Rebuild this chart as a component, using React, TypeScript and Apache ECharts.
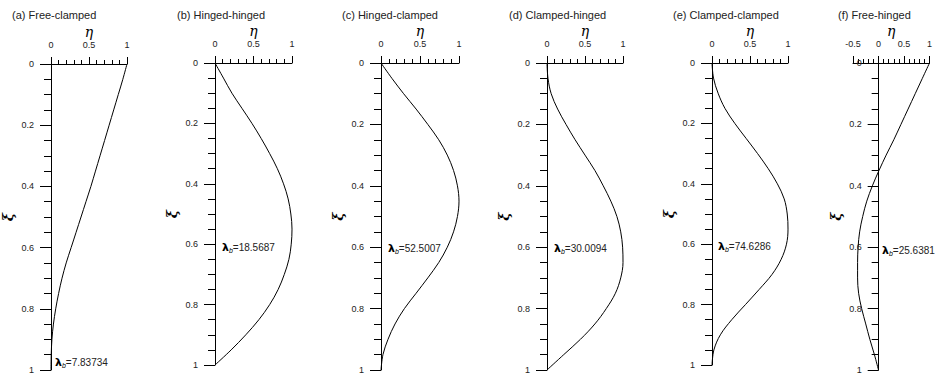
import React, { useEffect, useRef } from "react";
import * as echarts from "echarts";

// ξ sample positions (shared by all panels)
const XI = [0, 0.05, 0.1, 0.15, 0.2, 0.25, 0.3, 0.35, 0.4, 0.45, 0.5, 0.55, 0.6, 0.65, 0.7, 0.75, 0.8, 0.85, 0.9, 0.95, 1];

// η values, one array per panel
const ETA_A = [1, 0.945, 0.885, 0.825, 0.765, 0.705, 0.645, 0.585, 0.525, 0.46, 0.395, 0.33, 0.265, 0.2, 0.145, 0.1, 0.062, 0.032, 0.012, 0.003, 0];
const ETA_B = [0, 0.11, 0.22, 0.35, 0.48, 0.6, 0.71, 0.81, 0.89, 0.95, 0.985, 1.0, 0.99, 0.96, 0.9, 0.82, 0.71, 0.57, 0.4, 0.21, 0];
const ETA_C = [0, 0.14, 0.29, 0.45, 0.6, 0.74, 0.85, 0.93, 0.98, 1.0, 0.98, 0.93, 0.85, 0.74, 0.6, 0.45, 0.3, 0.18, 0.09, 0.025, 0];
const ETA_D = [0, 0.013, 0.055, 0.14, 0.25, 0.37, 0.5, 0.63, 0.74, 0.84, 0.92, 0.97, 0.995, 1.0, 0.97, 0.9, 0.78, 0.63, 0.44, 0.22, 0];
const ETA_E = [0, 0.02, 0.08, 0.17, 0.3, 0.45, 0.6, 0.74, 0.86, 0.95, 0.99, 1.0, 0.98, 0.91, 0.79, 0.62, 0.44, 0.26, 0.11, 0.025, 0];
const ETA_F = [1, 0.86, 0.72, 0.58, 0.44, 0.3, 0.15, 0.01, -0.12, -0.23, -0.31, -0.37, -0.4, -0.41, -0.41, -0.39, -0.33, -0.25, -0.17, -0.08, 0];

const SERIES = [ETA_A, ETA_B, ETA_C, ETA_D, ETA_E, ETA_F];
const TITLES = ["(a) Free-clamped", "(b) Hinged-hinged", "(c) Hinged-clamped", "(d) Clamped-hinged", "(e) Clamped-clamped", "(f) Free-hinged"];
const LAMBDAS = ["7.83734", "18.5687", "52.5007", "30.0094", "74.6286", "25.6381"];
const ETA_MIN = [0, 0, 0, 0, 0, -0.5];
const ETA_MAX = 1;

// layout (pixels)
const GRIDS = [
  { left: 50, top: 64, width: 77, height: 306 },
  { left: 215, top: 63, width: 77, height: 302 },
  { left: 381, top: 63, width: 78, height: 307 },
  { left: 547, top: 63, width: 76, height: 307 },
  { left: 712, top: 63, width: 76, height: 302 },
  { left: 853, top: 63, width: 77, height: 307 },
];
const TITLE_X = [12, 177, 342, 509, 673, 838];
const LAMBDA_POS = [
  [55, 362],
  [222, 247],
  [388, 248],
  [554, 248],
  [718, 246],
  [882, 250],
];

const LABEL_FONT = "Liberation Sans, Arial, sans-serif";

export default function App() {
  const ref = useRef<HTMLDivElement>(null);
  useEffect(() => {
    if (!ref.current) return;
    const chart = echarts.init(ref.current, null, { renderer: "svg" });
    const grid = GRIDS.map((g) => ({ ...g, containLabel: false }));
    const xAxis = SERIES.map((_, i) => ({
      type: "value",
      gridIndex: i,
      position: "top",
      min: ETA_MIN[i],
      max: ETA_MAX,
      interval: 0.5,
      name: "η",
      nameLocation: "middle",
      nameGap: 25,
      nameMoveOverlap: false,
      nameTextStyle: { fontFamily: "DejaVu Serif", fontStyle: "italic", fontWeight: "normal", fontSize: 14, color: "#000" },
      axisLine: { show: true, onZero: false, lineStyle: { color: "#000", width: 1 } },
      axisTick: { show: true, inside: false, length: 7, lineStyle: { color: "#000" } },
      minorTick: { show: true, splitNumber: 5, length: 4, lineStyle: { color: "#000" } },
      splitLine: { show: false },
      minorSplitLine: { show: false },
      axisLabel: { fontSize: 9, color: "#222", margin: 15, fontFamily: LABEL_FONT, showMinLabel: true, showMaxLabel: true },
    }));
    const yAxis = SERIES.map((_, i) => {
      const g = GRIDS[i];
      // put the ξ axis at η = 0 (matters only where η goes negative)
      const zeroOffset = -g.width * (0 - ETA_MIN[i]) / (ETA_MAX - ETA_MIN[i]);
      return {
        type: "value",
        gridIndex: i,
        inverse: true,
        min: 0,
        max: 1,
        interval: 0.2,
        offset: zeroOffset,
        name: "ξ",
        nameLocation: "middle",
        nameGap: 36,
        nameRotate: 90,
        nameMoveOverlap: false,
        nameTextStyle: { fontFamily: "DejaVu Serif", fontStyle: "italic", fontWeight: "bold", fontSize: 14, color: "#000" },
        axisLine: { show: true, onZero: false, lineStyle: { color: "#000", width: 1 } },
        axisTick: { show: true, inside: false, length: 11, lineStyle: { color: "#000" } },
        minorTick: { show: true, splitNumber: 4, length: 7, lineStyle: { color: "#000" } },
        splitLine: { show: false },
        minorSplitLine: { show: false },
        axisLabel: { fontSize: 9, color: "#222", margin: 17, fontFamily: LABEL_FONT, formatter: (v: number) => String(+v.toFixed(1)) },
      };
    });
    const series = SERIES.map((eta, i) => ({
      type: "line",
      xAxisIndex: i,
      yAxisIndex: i,
      data: eta.map((e, k) => [e, XI[k]]),
      showSymbol: false,
      smooth: 0.35,
      lineStyle: { color: "#000", width: 1 },
      silent: true,
    }));
    const graphic: any[] = [];
    TITLES.forEach((t, i) => {
      graphic.push({
        type: "text",
        x: TITLE_X[i],
        y: 15,
        style: { text: t, font: `11px ${LABEL_FONT}`, fill: "#222", verticalAlign: "middle" },
      });
      graphic.push({
        type: "text",
        x: LAMBDA_POS[i][0],
        y: LAMBDA_POS[i][1],
        style: {
          text: `{l|λ}{s|b}{v|=${LAMBDAS[i]}}`,
          verticalAlign: "middle",
          rich: {
            l: { fontSize: 11, fontWeight: "bold", fontFamily: "DejaVu Sans", fill: "#000", lineHeight: 13, verticalAlign: "middle" },
            s: { fontSize: 7, fontStyle: "italic", fontFamily: LABEL_FONT, fill: "#000", lineHeight: 13, verticalAlign: "bottom" },
            v: { fontSize: 10, fontFamily: LABEL_FONT, fill: "#222", lineHeight: 13, verticalAlign: "middle" },
          },
        },
      });
    });
    chart.setOption({
      animation: false,
      backgroundColor: "#fff",
      grid,
      xAxis,
      yAxis,
      series,
      graphic,
    });
    return () => chart.dispose();
  }, []);
  return <div ref={ref} style={{ position: "fixed", left: 0, top: 0, width: 935, height: 376 }} />;
}
